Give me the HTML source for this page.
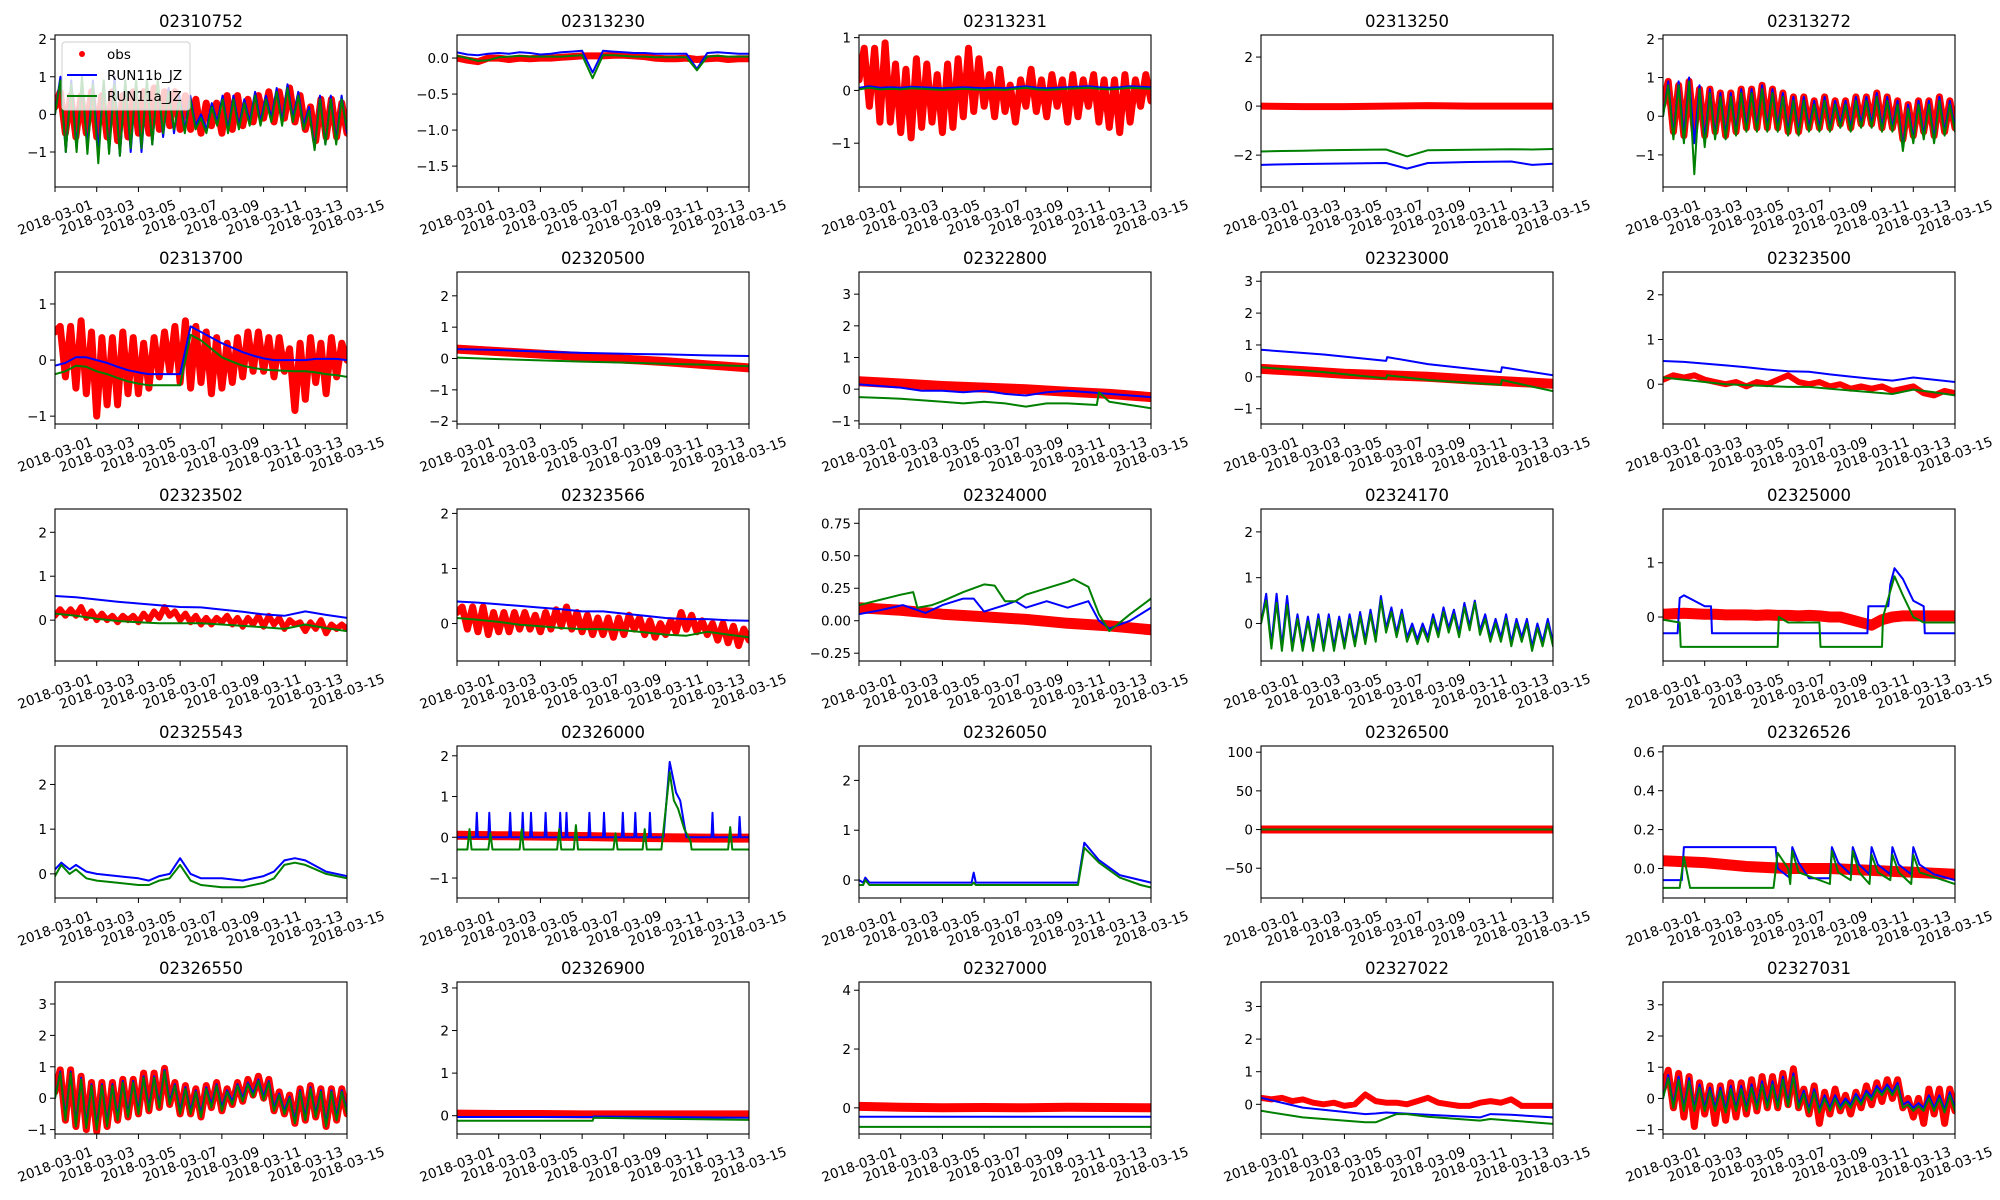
<!DOCTYPE html>
<html><head><meta charset="utf-8"><style>
html,body{margin:0;padding:0;background:#fff}
svg{display:block}
text{font-family:"DejaVu Sans","Liberation Sans",sans-serif;fill:#000}
</style></head>
<body>
<svg id="fig" xmlns="http://www.w3.org/2000/svg" width="2000" height="1200" viewBox="0 0 2000 1200"></svg>
<script>
// ---- data arrays (days since 2018-03-01; uniform arrays span 0..14) ----
const xTickLabels = ["2018-03-01","2018-03-03","2018-03-05","2018-03-07","2018-03-09","2018-03-11","2018-03-13","2018-03-15"];
const xTickDays = [0,2,4,6,8,10,12,14];

const obs_02310752 = [0.2,0.6,-0.5,0.5,-0.6,0.5,-0.5,0.6,-0.6,0.5,-0.6,0.6,-0.7,0.5,-0.6,0.6,-0.5,0.6,-0.5,0.7,-0.4,0.6,-0.3,0.6,-0.4,0.5,-0.4,0.4,-0.5,0.3,-0.3,0.3,-0.5,0.5,-0.4,0.5,-0.3,0.4,-0.2,0.5,-0.1,0.6,-0.2,0.6,-0.1,0.7,-0.2,0.5,-0.4,0.2,-0.7,0.4,-0.6,0.4,-0.6,0.3,-0.5];
const b_02310752 = [0.0,1.0,-1.0,0.9,-0.9,0.9,-0.9,0.9,-1.0,0.9,-1.0,1.0,-1.1,0.9,-1.0,0.9,-1.0,0.9,-0.8,0.9,-0.6,0.7,-0.5,0.5,-0.4,0.5,-0.3,0.0,-0.4,0.3,-0.2,0.5,-0.4,0.5,-0.3,0.4,-0.2,0.6,-0.2,0.5,-0.1,0.7,-0.2,0.8,-0.1,0.6,-0.3,0.2,-0.9,0.5,-0.8,0.5,-0.7,0.5,-0.5];
const g_02310752 = [0.0,0.9,-1.0,0.8,-1.0,1.0,-1.05,0.8,-1.3,0.9,-1.05,0.8,-1.1,0.9,-0.9,0.9,-0.9,0.9,-0.8,0.9,-0.5,0.6,-0.4,0.4,-0.5,0.4,-0.4,-0.1,-0.5,0.2,-0.3,0.4,-0.5,0.4,-0.4,0.3,-0.3,0.5,-0.3,0.4,-0.2,0.6,-0.3,0.7,-0.2,0.5,-0.4,0.1,-0.95,0.4,-0.8,0.4,-0.8,0.4,-0.4];

const obs_02313230 = [0.0,-0.03,-0.05,0.0,0.0,-0.02,0.0,-0.01,0.0,0.0,0.01,0.02,0.03,0.03,0.03,0.04,0.04,0.03,0.02,0.0,-0.01,-0.01,0.0,-0.02,-0.01,0.0,-0.02,-0.01,-0.01];
const b_02313230 = [0.08,0.05,0.04,0.06,0.07,0.06,0.08,0.07,0.05,0.06,0.08,0.09,0.1,-0.2,0.1,0.09,0.08,0.07,0.07,0.06,0.06,0.06,0.06,-0.15,0.07,0.08,0.07,0.06,0.06];
const g_02313230 = [0.03,0.0,-0.04,-0.03,0.01,0.02,0.03,0.02,0.02,0.02,0.02,0.03,0.04,-0.28,0.04,0.04,0.03,0.02,0.02,0.01,0.01,0.01,0.01,-0.17,0.02,0.03,0.02,0.02,0.02];

const obs_02313231 = [0.2,0.8,-0.3,0.8,-0.6,0.9,-0.6,0.5,-0.8,0.4,-0.9,0.6,-0.7,0.5,-0.6,0.3,-0.8,0.5,-0.7,0.6,-0.5,0.8,-0.4,0.6,-0.3,0.3,-0.5,0.4,-0.4,0.1,-0.6,0.2,-0.3,0.4,-0.4,0.2,-0.5,0.3,-0.3,0.2,-0.6,0.3,-0.5,0.2,-0.3,0.3,-0.6,0.2,-0.7,0.2,-0.8,0.3,-0.6,0.2,-0.3,0.3,-0.2];
const b_02313231 = [0.05,0.08,0.05,0.06,0.05,0.07,0.06,0.05,0.04,0.05,0.06,0.05,0.04,0.05,0.04,0.06,0.08,0.05,0.04,0.05,0.06,0.07,0.08,0.06,0.05,0.06,0.08,0.07,0.06];
const g_02313231 = [0.02,0.05,0.02,0.03,0.02,0.04,0.03,0.02,0.01,0.02,0.03,0.02,0.01,0.02,0.01,0.03,0.05,0.02,0.01,0.02,0.03,0.04,0.05,0.03,0.02,0.03,0.05,0.04,0.03];

const obs_02313250 = [0.0,-0.02,-0.02,0.0,0.02,0.0,0.0,0.0];
const b_02313250 = [-2.4,-2.38,-2.36,-2.35,-2.34,-2.33,-2.32,-2.55,-2.32,-2.3,-2.28,-2.27,-2.26,-2.4,-2.35];
const g_02313250 = [-1.85,-1.83,-1.82,-1.8,-1.79,-1.78,-1.77,-2.05,-1.8,-1.79,-1.78,-1.77,-1.76,-1.77,-1.75];

const obs_02313272 = [0.3,0.9,-0.4,0.8,-0.5,0.9,-0.4,0.7,-0.5,0.7,-0.4,0.6,-0.5,0.6,-0.4,0.7,-0.3,0.7,-0.3,0.8,-0.3,0.7,-0.3,0.6,-0.4,0.5,-0.4,0.5,-0.3,0.4,-0.3,0.5,-0.3,0.4,-0.2,0.4,-0.3,0.5,-0.2,0.5,-0.2,0.6,-0.3,0.5,-0.3,0.4,-0.6,0.3,-0.5,0.4,-0.4,0.4,-0.5,0.5,-0.4,0.4,-0.3];
const b_02313272 = [0.0,0.9,-0.5,0.9,-0.5,1.0,-0.7,0.8,-0.6,0.7,-0.5,0.6,-0.5,0.6,-0.4,0.7,-0.3,0.7,-0.3,0.8,-0.3,0.7,-0.3,0.6,-0.4,0.5,-0.4,0.5,-0.3,0.4,-0.3,0.5,-0.3,0.4,-0.2,0.4,-0.3,0.5,-0.2,0.5,-0.2,0.6,-0.3,0.5,-0.3,0.4,-0.8,0.3,-0.6,0.4,-0.5,0.4,-0.6,0.5,-0.4,0.4,-0.3];
const g_02313272 = [0.0,0.8,-0.6,0.8,-0.7,0.9,-1.5,0.7,-0.8,0.6,-0.6,0.5,-0.6,0.5,-0.5,0.6,-0.4,0.6,-0.4,0.7,-0.4,0.6,-0.4,0.5,-0.5,0.4,-0.5,0.4,-0.4,0.3,-0.4,0.4,-0.4,0.3,-0.3,0.3,-0.4,0.4,-0.3,0.4,-0.3,0.5,-0.4,0.4,-0.4,0.3,-0.9,0.2,-0.7,0.3,-0.6,0.3,-0.7,0.4,-0.5,0.3,-0.4];

const obs_02313700 = [0.5,0.6,-0.3,0.6,-0.5,0.7,-0.6,0.5,-1.0,0.4,-0.8,0.4,-0.8,0.5,-0.6,0.4,-0.6,0.3,-0.5,0.4,-0.3,0.5,-0.2,0.6,-0.4,0.7,-0.5,0.6,-0.4,0.5,-0.6,0.4,-0.5,0.3,-0.4,0.4,-0.3,0.5,-0.2,0.5,-0.2,0.4,-0.3,0.4,-0.2,0.2,-0.9,0.3,-0.7,0.4,-0.4,0.3,-0.6,0.4,-0.3,0.3,0.0];
const b_02313700 = [-0.1,-0.05,0.05,0.05,0.0,-0.05,-0.12,-0.18,-0.22,-0.25,-0.25,-0.25,-0.25,0.6,0.5,0.4,0.3,0.22,0.14,0.08,0.03,0.0,0.0,0.0,0.0,0.02,0.02,0.02,0.0];
const g_02313700 = [-0.25,-0.2,-0.1,-0.12,-0.2,-0.25,-0.32,-0.38,-0.42,-0.45,-0.45,-0.45,-0.45,0.45,0.35,0.2,0.05,-0.03,-0.1,-0.14,-0.17,-0.18,-0.19,-0.2,-0.2,-0.22,-0.25,-0.27,-0.3];

const obs_02320500 = [0.3,0.22,0.14,0.06,-0.02,-0.1,-0.2,-0.3];
const b_02320500 = [0.3,0.27,0.22,0.18,0.15,0.13,0.1,0.08];
const g_02320500 = [0.03,-0.02,-0.06,-0.1,-0.13,-0.17,-0.2,-0.25];

const obs_02322800 = [0.25,0.18,0.1,0.05,0.0,-0.08,-0.15,-0.25];
const b_02322800 = [0.15,0.1,0.05,-0.05,-0.05,-0.1,-0.05,-0.15,-0.2,-0.1,-0.05,-0.1,-0.15,-0.2,-0.25];
const gt_02322800 = [0,2,4,5,6,7,8,9,10,11.4,11.5,12,13,14];
const g_02322800 = [-0.25,-0.3,-0.4,-0.45,-0.4,-0.45,-0.55,-0.45,-0.45,-0.5,-0.1,-0.4,-0.5,-0.6];

const obs_02323000 = [0.25,0.18,0.1,0.05,0.0,-0.08,-0.15,-0.22];
const t_02323000 = [0,3,6,6.05,8,11.5,11.55,14];
const b_02323000 = [0.85,0.7,0.5,0.62,0.4,0.15,0.3,0.05];
const g_02323000 = [0.3,0.15,-0.05,0.05,-0.1,-0.25,-0.1,-0.45];

const obs_02323500 = [0.1,0.2,0.15,0.2,0.1,0.05,0.0,0.05,-0.05,0.05,0.0,0.1,0.2,0.05,0.0,0.05,-0.05,0.0,-0.1,-0.05,-0.1,-0.05,-0.15,-0.1,-0.05,-0.2,-0.25,-0.15,-0.2];
const b_02323500 = [0.52,0.5,0.46,0.42,0.38,0.33,0.29,0.28,0.22,0.17,0.12,0.08,0.15,0.1,0.05];
const g_02323500 = [0.15,0.1,0.05,0.0,-0.02,-0.04,-0.06,-0.06,-0.1,-0.14,-0.18,-0.22,-0.12,-0.18,-0.25];

const obs_02323502 = [0.1,0.25,0.1,0.25,0.1,0.3,0.05,0.2,0.0,0.15,0.0,0.1,-0.05,0.1,0.0,0.1,-0.05,0.15,0.0,0.2,0.05,0.3,0.1,0.2,0.0,0.15,-0.05,0.1,-0.1,0.05,-0.1,0.05,-0.05,0.1,-0.1,0.05,-0.15,0.05,-0.1,0.1,-0.15,0.1,-0.1,0.05,-0.2,0.0,-0.1,-0.05,-0.25,-0.05,-0.2,0.0,-0.3,-0.1,-0.2,-0.1,-0.2];
const b_02323502 = [0.55,0.52,0.47,0.42,0.38,0.34,0.3,0.29,0.24,0.19,0.13,0.1,0.2,0.12,0.05];
const g_02323502 = [0.15,0.1,0.03,-0.02,-0.05,-0.07,-0.07,-0.07,-0.1,-0.13,-0.16,-0.2,-0.1,-0.18,-0.25];

const obs_02323566 = [0.2,0.3,-0.1,0.3,-0.15,0.3,-0.2,0.2,-0.15,0.2,-0.15,0.2,-0.1,0.2,-0.1,0.15,-0.15,0.2,-0.1,0.25,-0.05,0.3,-0.1,0.2,-0.15,0.15,-0.2,0.1,-0.2,0.1,-0.25,0.1,-0.2,0.15,-0.1,0.1,-0.2,0.05,-0.25,0.0,-0.2,0.05,-0.15,0.2,-0.1,0.15,-0.15,0.05,-0.2,0.0,-0.3,0.0,-0.35,-0.05,-0.4,-0.1,-0.3];
const b_02323566 = [0.4,0.38,0.35,0.32,0.29,0.26,0.22,0.22,0.18,0.14,0.1,0.08,0.08,0.06,0.05];
const g_02323566 = [0.1,0.07,0.03,-0.02,-0.05,-0.08,-0.1,-0.1,-0.12,-0.16,-0.2,-0.22,-0.15,-0.2,-0.25];

const obs_02324000 = [0.1,0.08,0.05,0.03,0.01,-0.02,-0.04,-0.07];
const bt_02324000 = [0,1,2.1,3.2,4,5,5.5,6,7,7.5,8,9,10,11,11.5,12,13,14];
const b_02324000 = [0.05,0.08,0.12,0.06,0.12,0.17,0.17,0.07,0.12,0.15,0.1,0.15,0.1,0.15,0.0,-0.06,0.0,0.1];
const gt_02324000 = [0,1,2,2.6,2.8,3.5,4,5,6,6.5,7,7.5,8,9,10,10.3,11,11.5,12,13,14];
const g_02324000 = [0.12,0.16,0.2,0.22,0.1,0.12,0.15,0.22,0.28,0.27,0.15,0.15,0.2,0.25,0.3,0.32,0.26,0.05,-0.08,0.05,0.17];

const b_02324170 = [0.0,0.65,-0.45,0.65,-0.5,0.6,-0.5,0.2,-0.5,0.15,-0.5,0.2,-0.5,0.2,-0.5,0.15,-0.45,0.2,-0.4,0.25,-0.35,0.3,-0.3,0.6,-0.1,0.35,-0.2,0.3,-0.3,0.0,-0.35,0.0,-0.3,0.2,-0.2,0.35,-0.1,0.3,-0.2,0.45,-0.05,0.5,-0.15,0.2,-0.3,0.1,-0.3,0.2,-0.4,0.1,-0.3,0.1,-0.5,0.0,-0.4,0.1,-0.4];
const g_02324170 = [0.0,0.5,-0.55,0.45,-0.6,0.4,-0.6,0.1,-0.6,0.05,-0.6,0.1,-0.6,0.1,-0.6,0.05,-0.55,0.1,-0.5,0.15,-0.45,0.2,-0.4,0.5,-0.2,0.25,-0.3,0.2,-0.4,-0.1,-0.45,-0.1,-0.4,0.1,-0.3,0.25,-0.2,0.2,-0.3,0.35,-0.15,0.45,-0.25,0.1,-0.4,0.0,-0.4,0.1,-0.5,0.0,-0.4,0.0,-0.6,-0.1,-0.5,0.0,-0.5];

const obs_02325000 = [0.05,0.06,0.07,0.06,0.05,0.05,0.04,0.04,0.04,0.03,0.04,0.03,0.03,0.02,0.03,0.02,0.0,0.0,-0.05,-0.1,-0.15,-0.05,0.0,0.02,0.02,0.02,0.02,0.02,0.02];
const bt_02325000 = [0,0.7,0.8,1.0,1.5,2.0,2.3,2.35,9.8,9.85,10.8,10.9,11.1,11.5,12.0,12.5,12.55,14];
const b_02325000 = [-0.3,-0.3,0.35,0.4,0.3,0.2,0.2,-0.3,-0.3,0.2,0.2,0.6,0.9,0.7,0.3,0.2,-0.3,-0.3];
const gt_02325000 = [0,0.8,0.85,5.5,5.55,6.0,7.5,7.55,10.5,10.55,11.1,11.5,12.0,12.5,14];
const g_02325000 = [-0.05,-0.1,-0.55,-0.55,0.0,-0.1,-0.1,-0.55,-0.55,0.0,0.75,0.4,0.0,-0.1,-0.1];

const t_02325543 = [0,0.3,0.7,1,1.5,2,3,4,4.5,5,5.5,6,6.5,7,8,9,10,10.5,11,11.5,12,13,14];
const b_02325543 = [0.1,0.25,0.1,0.2,0.05,0.0,-0.05,-0.1,-0.15,-0.05,0.0,0.35,0.0,-0.1,-0.1,-0.15,-0.05,0.05,0.3,0.35,0.3,0.05,-0.05];
const g_02325543 = [-0.05,0.2,0.0,0.1,-0.1,-0.15,-0.2,-0.25,-0.25,-0.15,-0.1,0.2,-0.15,-0.25,-0.3,-0.3,-0.2,-0.1,0.2,0.25,0.2,0.0,-0.1];

const obs_02326000 = [0.05,0.04,0.03,0.02,0.0,-0.01,-0.02,-0.02];
const bt_02326000 = [0,0.9,0.95,1.0,1.5,1.55,1.6,2.5,2.55,2.6,3.1,3.15,3.2,3.5,3.55,3.6,4.2,4.25,4.3,4.9,4.95,5.0,5.2,5.25,5.3,6.3,6.35,6.4,7.0,7.05,7.1,7.9,7.95,8.0,8.5,8.55,8.6,9.2,9.25,9.3,9.9,10.2,10.5,10.7,10.9,11.0,11.3,12.2,12.25,12.3,13.5,13.55,13.6,14];
const b_02326000 = [0,0,0.6,0,0,0.6,0,0,0.6,0,0,0.6,0,0,0.6,0,0,0.6,0,0,0.6,0,0,0.6,0,0,0.6,0,0,0.6,0,0,0.6,0,0,0.6,0,0,0.6,0,0,1.85,1.1,0.9,0.3,0,0,0,0.6,0,0,0.5,0,0];
const gt_02326000 = [0,0.5,0.6,0.7,1.5,1.6,1.7,3.0,3.1,3.2,4.8,4.9,5.0,5.6,5.7,5.8,7.5,7.6,7.7,8.9,9.0,9.1,9.8,10.2,10.4,10.6,10.9,11.2,11.25,13.0,13.1,13.2,14];
const g_02326000 = [-0.3,-0.3,0.2,-0.3,-0.3,0.1,-0.3,-0.3,0.2,-0.3,-0.3,0.2,-0.3,-0.3,0.3,-0.3,-0.3,0.1,-0.3,-0.3,0.2,-0.3,-0.3,1.6,0.9,0.7,0.2,-0.1,-0.3,-0.3,0.25,-0.3,-0.3];

const t_02326050 = [0,0.2,0.3,0.5,5.4,5.5,5.6,10.5,10.8,11.5,12.5,13.5,14];
const b_02326050 = [0,-0.05,0.05,-0.05,-0.05,0.15,-0.05,-0.05,0.75,0.4,0.1,0.0,-0.05];
const g_02326050 = [-0.1,-0.1,0.0,-0.1,-0.1,-0.05,-0.1,-0.1,0.65,0.35,0.05,-0.1,-0.15];

const obs_02326500 = [0,0,0,0,0,0,0,0];
const b_02326500 = [0,0,0,0];
const g_02326500 = [0,0,0,0];

const obs_02326526 = [0.04,0.03,0.01,0.0,0.0,-0.01,-0.02,-0.03];
const bt_02326526 = [0,0.9,1.0,5.4,5.5,6.1,6.2,6.5,7.0,7.5,8.0,8.1,8.4,9.0,9.1,9.4,9.9,10.0,10.3,10.9,11.0,11.3,11.9,12.0,12.3,13.0,14];
const b_02326526 = [-0.06,-0.06,0.11,0.11,0.0,-0.05,0.11,0.03,-0.05,-0.05,-0.05,0.11,0.03,-0.03,0.11,0.02,-0.03,0.11,0.02,-0.03,0.11,0.02,-0.03,0.11,0.02,-0.03,-0.06];
const gt_02326526 = [0,0.8,1.0,1.3,5.3,5.5,6.0,6.1,6.2,6.5,8.0,8.1,8.4,9.0,9.1,9.4,9.9,10.0,10.3,10.9,11.0,11.3,11.9,12.0,12.3,14];
const g_02326526 = [-0.1,-0.1,0.06,-0.1,-0.1,0.08,0.0,-0.08,0.09,-0.02,-0.08,0.09,-0.02,-0.06,0.09,-0.02,-0.08,0.07,-0.02,-0.06,0.07,-0.02,-0.08,0.07,-0.02,-0.08];

const obs_02326550 = [0.2,0.9,-0.7,0.9,-0.9,0.7,-1.0,0.5,-1.05,0.5,-0.9,0.5,-0.7,0.6,-0.6,0.6,-0.5,0.8,-0.4,0.8,-0.3,0.95,-0.2,0.5,-0.5,0.4,-0.5,0.3,-0.6,0.4,-0.3,0.5,-0.4,0.3,-0.2,0.5,-0.1,0.6,0.1,0.7,0.0,0.6,-0.4,0.2,-0.5,0.1,-0.8,0.3,-0.7,0.4,-0.6,0.3,-0.9,0.3,-0.7,0.3,-0.5];
const b_02326550 = [0.0,0.85,-0.6,0.85,-0.8,0.65,-0.85,0.45,-0.9,0.45,-0.8,0.45,-0.6,0.55,-0.5,0.55,-0.4,0.7,-0.3,0.7,-0.2,0.9,-0.1,0.45,-0.4,0.35,-0.4,0.25,-0.5,0.35,-0.2,0.45,-0.3,0.25,-0.1,0.45,0.0,0.5,0.15,0.6,0.05,0.55,-0.3,0.15,-0.4,0.05,-0.7,0.25,-0.6,0.35,-0.5,0.25,-0.8,0.25,-0.6,0.25,-0.4];
const g_02326550 = [0.0,0.8,-0.7,0.8,-0.9,0.6,-0.95,0.4,-1.0,0.4,-0.9,0.4,-0.7,0.5,-0.6,0.5,-0.5,0.65,-0.4,0.65,-0.3,0.85,-0.2,0.4,-0.5,0.3,-0.5,0.2,-0.6,0.3,-0.3,0.4,-0.4,0.2,-0.2,0.4,-0.1,0.45,0.05,0.55,-0.05,0.5,-0.4,0.1,-0.5,0.0,-0.8,0.2,-0.7,0.3,-0.6,0.2,-0.9,0.2,-0.7,0.2,-0.5];

const obs_02326900 = [0.05,0.04,0.04,0.03,0.03,0.03,0.03,0.03];
const t_02326900 = [0,6.5,6.55,14];
const b_02326900 = [-0.03,-0.03,-0.02,-0.05];
const g_02326900 = [-0.12,-0.12,-0.05,-0.1];

const obs_02327000 = [0.05,0.02,0.0,0.01,0.0,0.02,0.01,0.0];
const b_02327000 = [-0.3,-0.3];
const g_02327000 = [-0.65,-0.65];

const obs_02327022 = [0.2,0.15,0.2,0.1,0.15,0.05,0.0,0.05,-0.05,0.0,0.3,0.1,0.05,0.05,0.0,0.1,0.2,0.05,0.0,-0.05,-0.05,0.05,0.1,0.05,0.15,-0.05,-0.05,-0.05,-0.05];
const bt_02327022 = [0,2,5,5.5,6,8,10.5,11,12,14];
const b_02327022 = [0.2,-0.1,-0.3,-0.28,-0.25,-0.32,-0.4,-0.3,-0.32,-0.4];
const gt_02327022 = [0,2,5,5.5,6.5,7,8,10.5,11,12,14];
const g_02327022 = [-0.2,-0.4,-0.55,-0.55,-0.3,-0.3,-0.38,-0.5,-0.45,-0.5,-0.6];

const obs_02327031 = [0.3,0.9,-0.3,0.8,-0.6,0.7,-0.9,0.5,-0.5,0.4,-0.8,0.4,-0.7,0.5,-0.6,0.5,-0.5,0.6,-0.4,0.7,-0.3,0.7,-0.3,0.8,-0.2,0.95,-0.3,0.3,-0.5,0.4,-0.8,0.2,-0.5,0.3,-0.4,0.1,-0.5,0.2,-0.3,0.4,-0.2,0.5,-0.1,0.6,0.0,0.6,-0.3,0.0,-0.6,0.0,-0.8,0.3,-0.5,0.3,-0.8,0.3,-0.4];
const b_02327031 = [0.0,0.75,-0.2,0.7,-0.3,0.65,-0.3,0.45,-0.3,0.35,-0.3,0.35,-0.35,0.4,-0.3,0.4,-0.3,0.45,-0.25,0.55,-0.2,0.55,-0.2,0.7,-0.15,0.8,-0.2,0.25,-0.35,0.3,-0.35,0.1,-0.3,0.1,-0.25,0.0,-0.2,0.15,-0.1,0.25,0.05,0.4,0.2,0.45,0.2,0.5,-0.2,-0.1,-0.3,-0.15,-0.3,0.1,-0.3,0.1,-0.35,0.2,-0.3];
const g_02327031 = [0.0,0.65,-0.3,0.6,-0.4,0.55,-0.4,0.35,-0.4,0.25,-0.4,0.25,-0.45,0.3,-0.4,0.3,-0.4,0.35,-0.35,0.45,-0.3,0.45,-0.3,0.6,-0.25,0.7,-0.3,0.15,-0.45,0.2,-0.45,0.0,-0.4,0.0,-0.35,-0.1,-0.3,0.05,-0.2,0.15,-0.05,0.3,0.1,0.35,0.1,0.4,-0.3,-0.2,-0.4,-0.25,-0.4,0.0,-0.4,0.0,-0.45,0.1,-0.4];

// ---- panel definitions ----
const panels = [
 {id:"02310752", y:[-1.93,2.11], ticks:[-1,0,1,2], dec:0, obs:obs_02310752, b:b_02310752, g:g_02310752},
 {id:"02313230", y:[-1.79,0.32], ticks:[-1.5,-1.0,-0.5,0.0], dec:1, obs:obs_02313230, b:b_02313230, g:g_02313230},
 {id:"02313231", y:[-1.83,1.05], ticks:[-1,0,1], dec:0, obs:obs_02313231, b:b_02313231, g:g_02313231},
 {id:"02313250", y:[-3.3,2.9], ticks:[-2,0,2], dec:0, obs:obs_02313250, b:b_02313250, g:g_02313250},
 {id:"02313272", y:[-1.83,2.1], ticks:[-1,0,1,2], dec:0, obs:obs_02313272, b:b_02313272, g:g_02313272},
 {id:"02313700", y:[-1.14,1.57], ticks:[-1,0,1], dec:0, obs:obs_02313700, b:b_02313700, g:g_02313700},
 {id:"02320500", y:[-2.09,2.76], ticks:[-2,-1,0,1,2], dec:0, obs:obs_02320500, b:b_02320500, g:g_02320500, ow:9},
 {id:"02322800", y:[-1.1,3.7], ticks:[-1,0,1,2,3], dec:0, obs:obs_02322800, b:b_02322800, g:g_02322800, gt:gt_02322800, ow:10},
 {id:"02323000", y:[-1.48,3.29], ticks:[-1,0,1,2,3], dec:0, obs:obs_02323000, b:b_02323000, g:g_02323000, bt:t_02323000, gt:t_02323000, ow:10},
 {id:"02323500", y:[-0.89,2.51], ticks:[0,1,2], dec:0, obs:obs_02323500, b:b_02323500, g:g_02323500, ow:6},
 {id:"02323502", y:[-0.93,2.53], ticks:[0,1,2], dec:0, obs:obs_02323502, b:b_02323502, g:g_02323502, ow:6},
 {id:"02323566", y:[-0.68,2.08], ticks:[0,1,2], dec:0, obs:obs_02323566, b:b_02323566, g:g_02323566},
 {id:"02324000", y:[-0.31,0.86], ticks:[-0.25,0,0.25,0.5,0.75], dec:2, obs:obs_02324000, b:b_02324000, g:g_02324000, bt:bt_02324000, gt:gt_02324000, ow:11},
 {id:"02324170", y:[-0.82,2.5], ticks:[0,1,2], dec:0, obs:null, b:b_02324170, g:g_02324170},
 {id:"02325000", y:[-0.81,1.99], ticks:[0,1], dec:0, obs:obs_02325000, b:b_02325000, g:g_02325000, bt:bt_02325000, gt:gt_02325000, ow:11},
 {id:"02325543", y:[-0.54,2.86], ticks:[0,1,2], dec:0, obs:null, b:b_02325543, g:g_02325543, bt:t_02325543, gt:t_02325543},
 {id:"02326000", y:[-1.49,2.24], ticks:[-1,0,1,2], dec:0, obs:obs_02326000, b:b_02326000, g:g_02326000, bt:bt_02326000, gt:gt_02326000, ow:9},
 {id:"02326050", y:[-0.36,2.69], ticks:[0,1,2], dec:0, obs:null, b:b_02326050, g:g_02326050, bt:t_02326050, gt:t_02326050},
 {id:"02326500", y:[-88.5,108], ticks:[-50,0,50,100], dec:0, obs:obs_02326500, b:b_02326500, g:g_02326500, ow:8},
 {id:"02326526", y:[-0.152,0.63], ticks:[0,0.2,0.4,0.6], dec:1, obs:obs_02326526, b:b_02326526, g:g_02326526, bt:bt_02326526, gt:gt_02326526, ow:11},
 {id:"02326550", y:[-1.14,3.7], ticks:[-1,0,1,2,3], dec:0, obs:obs_02326550, b:b_02326550, g:g_02326550},
 {id:"02326900", y:[-0.43,3.14], ticks:[0,1,2,3], dec:0, obs:obs_02326900, b:b_02326900, g:g_02326900, bt:t_02326900, gt:t_02326900, ow:8},
 {id:"02327000", y:[-0.89,4.28], ticks:[0,2,4], dec:0, obs:obs_02327000, b:b_02327000, g:g_02327000, ow:9},
 {id:"02327022", y:[-0.91,3.75], ticks:[0,1,2,3], dec:0, obs:obs_02327022, b:b_02327022, g:g_02327022, bt:bt_02327022, gt:gt_02327022, ow:6},
 {id:"02327031", y:[-1.14,3.73], ticks:[-1,0,1,2,3], dec:0, obs:obs_02327031, b:b_02327031, g:g_02327031}
];

const NS = "http://www.w3.org/2000/svg";
const svg = document.getElementById("fig");
const rowTops = [35,272,509,746,982];
const AW = 292, AH = 152;
function mk(tag, attrs, parent){ const e=document.createElementNS(NS,tag); for(const k in attrs) e.setAttribute(k,attrs[k]); parent.appendChild(e); return e; }
function fmt(v,d){ return v.toFixed(d).replace("-","\u2212"); }

panels.forEach((p,i)=>{
  const L = 55 + 402*(i%5), T = rowTops[Math.floor(i/5)];
  const xs = t => L + t/14*AW;
  const ys = v => T + AH - (v - p.y[0])/(p.y[1]-p.y[0])*AH;
  const g = mk("g",{},svg);
  
  
  const cp = mk("clipPath",{id:"c"+i},g);
  mk("rect",{x:L,y:T,width:AW,height:AH},cp);
  const title = mk("text",{x:L+AW/2,y:T-8,"text-anchor":"middle","font-size":"16.5"},g);
  title.textContent = p.id;
  
  
  const plot = mk("g",{"clip-path":"url(#c"+i+")"},g);
  function series(vals, times, color, w, name){
    if(!vals) return;
    const n = vals.length;
    const pts = vals.map((v,k)=>{ const t = times ? times[k] : k*14/(n-1); return xs(t).toFixed(1)+","+ys(v).toFixed(1); }).join(" ");
    const pl = mk("polyline",{points:pts,fill:"none",stroke:color,"stroke-width":w,"stroke-linejoin":"round","stroke-linecap":"round"},plot);
    
    
  }
  series(p.obs, null, "#ff0000", p.ow||7, "obs-series");
  series(p.b, p.bt, "#0000ff", 2, "run11b-series");
  series(p.g, p.gt, "#008000", 2, "run11a-series");
  const fr = mk("rect",{x:L,y:T,width:AW,height:AH,fill:"none",stroke:"#000","stroke-width":1.1},g);
  
  
  p.ticks.forEach(v=>{
    const y = ys(v);
    mk("line",{x1:L-5,x2:L,y1:y,y2:y,stroke:"#000","stroke-width":1},g);
    const t = mk("text",{x:L-8,y:y+5,"text-anchor":"end","font-size":"13.5"},g);
    t.textContent = fmt(v,p.dec);
    
    
  });
  xTickDays.forEach((d,k)=>{
    const x = xs(d);
    mk("line",{x1:x,x2:x,y1:T+AH,y2:T+AH+5,stroke:"#000","stroke-width":1},g);
    const t = mk("text",{transform:"translate("+x+","+(T+AH+30)+") rotate(-20)","text-anchor":"middle",y:5,"font-size":"13.5"},g);
    t.textContent = xTickLabels[k];
    
    
  });
});

// legend (first panel)
const lg = mk("g",{},svg);


mk("rect",{x:62,y:42,width:128,height:68,rx:3,fill:"#fff","fill-opacity":0.8,stroke:"#ccc"},lg);
mk("circle",{cx:82,cy:54,r:3,fill:"#ff0000"},lg);
mk("line",{x1:67,x2:97,y1:75,y2:75,stroke:"#0000ff","stroke-width":2},lg);
mk("line",{x1:67,x2:97,y1:96,y2:96,stroke:"#008000","stroke-width":2},lg);
[["obs",54,"legend-entry-obs"],["RUN11b_JZ",75,"legend-entry-run11b"],["RUN11a_JZ",96,"legend-entry-run11a"]].forEach(a=>{
  const t = mk("text",{x:107,y:a[1]+5,"font-size":"13.5"},lg);
  t.textContent = a[0];
  
  
});
</script>
</body></html>
